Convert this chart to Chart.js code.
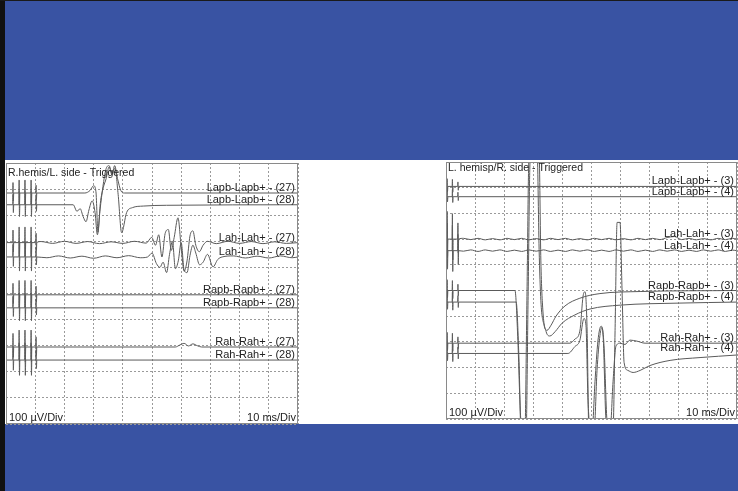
<!DOCTYPE html>
<html>
<head>
<meta charset="utf-8">
<script src="https://cdn.jsdelivr.net/npm/chart.js@4.4.1/dist/chart.umd.min.js"></script>
<style>
  body { margin: 0; width: 738px; height: 491px; background: #3953a3; position: relative; overflow: hidden; }
  #edge { position: absolute; left: 0; top: 0; width: 5px; height: 491px; background: #111; }
  #topline { position: absolute; left: 0; top: 0; width: 738px; height: 1px; background: #1a1a1a; }
  #band { position: absolute; left: 5px; top: 160px; width: 733px; height: 264px; background: #fff; }
  .screen { position: absolute; }
  #leftBox { left: 5px; top: 162px; width: 294px; height: 263px; }
  #rightBox { left: 445px; top: 161px; width: 293px; height: 259px; }
</style>
</head>
<body>
<div id="edge"></div>
<div id="topline"></div>
<div id="band"></div>
<div class="screen" id="leftBox"><canvas id="leftScreen"></canvas></div>
<div class="screen" id="rightBox"><canvas id="rightScreen"></canvas></div>

<script>
// sweep time in ms (10 ms/Div), amplitude in µV (100 µV/Div)

// ---------- R.hemis / L. side, sweeps 27 and 28 ----------
const leftChannels = ['Lapb-Lapb+ - (27)', 'Lapb-Lapb+ - (28)', 'Lah-Lah+ - (27)', 'Lah-Lah+ - (28)',
  'Rapb-Rapb+ - (27)', 'Rapb-Rapb+ - (28)', 'Rah-Rah+ - (27)', 'Rah-Rah+ - (28)'];
const leftBaselines = [385, 340, 195, 140, -5, -55, -205, -255];
const leftStimTimes = [2.4, 4.5, 6.5, 8.6, 10.3];
const leftStimUp = [40, 50, 50, 50, 30];
const leftStimDown = [30, 45, 45, 45, 25];
const leftStimGain = [1, 1, 1.2, 1.2, 1.1, 1.1, 1.3, 1.3];

const lapb27T = [0, 27.0, 28.8, 30.0, 30.8, 31.5, 32.3, 33.3, 34.3, 35.3, 36.3, 37.2, 38.2, 39.3, 40.5, 100];
const lapb27V = [0, 0, 10, 28, 5, -150, -40, 20, 55, 100, 70, 105, 55, 10, 0, 0];
const lapb28T = [0, 23, 24.3, 25.4, 26.4, 27.4, 28.4, 29.5, 30.5, 31.3, 32.2, 33.2, 34.2, 35.3, 36.3, 37.3, 38.4, 39.6, 41.3, 43.3, 47, 55, 100];
const lapb28V = [0, 0, -25, -15, -45, -65, -20, 15, -30, -115, -20, 70, 135, 150, 120, 140, 40, -107, -30, -11, -5, -2, 0];
const lah27T = [0, 12, 16, 20, 24, 28, 32, 36, 40, 44, 48, 49.9, 51.2, 52.3, 53.4, 54.5, 55.6, 56.6, 57.6, 58.9, 60.0, 61.0, 62.0, 63.0, 64.0, 65.0, 66.2, 67.5, 69, 72, 76, 80, 84, 88, 92, 96, 100];
const lah27V = [0, 4, -3, 5, -3, 4, -4, 3, -3, 5, -2, 20, -10, 30, -55, 35, 50, -30, 20, 95, -20, -110, -70, 25, 45, -10, -35, -10, 5, -4, 5, -3, 4, -4, 3, -3, 0];
const lah28T = [0, 14, 18, 22, 26, 30, 34, 38, 42, 46, 48.5, 50, 51.5, 52.7, 53.8, 55, 56, 57, 58, 59, 60, 61, 62, 63, 64, 65, 66.3, 67.5, 69, 70.9, 72.5, 74, 78, 82, 86, 90, 94, 98, 100];
const lah28V = [0, -3, 4, -4, 3, -5, 4, -3, 5, -3, 0, 15, -25, -40, -20, -60, 10, 60, -45, -15, 55, -50, -60, 5, 45, 15, -30, -20, 10, -38, -10, 0, 4, -4, 3, -4, 4, -3, 0];
const rapb27T = [0, 100];
const rapb27V = [0, 0];
const rapb28T = [0, 100];
const rapb28V = [0, 0];
const rah27T = [0, 58, 59.6, 61, 62.5, 64, 65.5, 67, 100];
const rah27V = [0, 0, 8, 14, 4, 12, 5, 0, 0];
const rah28T = [0, 100];
const rah28V = [0, 0];

// ---------- L. hemisp / R. side, sweeps 3 and 4 ----------
const rightChannels = ['Lapb-Lapb+ - (3)', 'Lapb-Lapb+ - (4)', 'Lah-Lah+ - (3)', 'Lah-Lah+ - (4)',
  'Rapb-Rapb+ - (3)', 'Rapb-Rapb+ - (4)', 'Rah-Rah+ - (3)', 'Rah-Rah+ - (4)'];
const rightBaselines = [405, 365, 200, 155, 0, -45, -205, -245];
const rightStimTimes = [0.4, 2.2, 4.1];
const rightStimUp = [60, 55, 35];
const rightStimDown = [40, 45, 30];
const rightStimGain = [0.5, 0.5, 1.8, 1.8, 0.7, 0.7, 0.7, 0.7];

const lapb3T = [0, 100];
const lapb3V = [0, 0];
const lapb4T = [0, 100];
const lapb4V = [0, 0];
const lahRT = [0, 6, 8.5, 11, 13.5, 16, 18.5, 21, 23.5, 26, 28.5, 31, 33.5, 36, 38.5, 41, 43.5, 46, 48.5, 51, 53.5, 56, 58.5, 61, 63.5, 66, 68.5, 71, 73.5, 76, 78.5, 81, 83.5, 86, 88.5, 91, 93.5, 96, 98.5, 100];
const lah3V = [0, 3, -2, 3, -3, 2, -3, 3, -2, 3, -3, 2, -3, 3, -2, 3, -3, 2, -3, 3, -2, 3, -3, 2, -3, 3, -2, 3, -2, 6, 10, -2, 3, -3, 2, -3, 3, -2, 3, 0];
const lah4V = [0, -2, 3, -3, 3, -2, 3, -3, 2, -3, 3, -2, 3, -3, 2, -3, 3, -2, 3, -3, 2, -3, 3, -2, 3, -3, 2, -3, 3, -2, 3, -3, 2, -3, 3, -2, 3, -3, 2, 0];
const rapb3T = [0, 23.7, 24.7, 25.4, 26.1, 27.1, 27.8, 28.5, 29.9, 31.3, 32.0, 32.6, 33.7, 34.7, 36.1, 37.8, 40.9, 46.0, 52.9, 66.7, 100];
const rapb3V = [0, 0, -195, -430, -560, -560, -40, 520, 600, 560, 160, -40, -135, -155, -135, -100, -60, -30, -12, -4, 0];
const rapb4T = [0, 24.1, 25.1, 25.8, 27.5, 28.2, 28.9, 30.6, 32.0, 32.6, 33.3, 34.4, 35.7, 37.5, 39.9, 44.3, 49.5, 59.8, 80.4, 100];
const rapb4V = [0, 0, -230, -520, -520, 5, 550, 620, 580, 160, -35, -115, -132, -115, -82, -50, -27, -12, -4, 0];
const rah3T = [0, 42.6, 44.3, 46.0, 47.1, 47.8, 48.5, 49.1, 50.2, 51.2, 52.2, 53.3, 54.0, 55.0, 56.4, 57.4, 58.4, 59.8, 61.5, 63.2, 65.6, 68.4, 100];
const rah3V = [0, 0, 16, 47, 183, 200, 47, -340, -340, -150, 8, 66, 27, -300, -340, -150, -12, 0, -5, 12, 8, 0, 0];
const rah4T = [0, 41.9, 44.3, 46.0, 47.4, 48.1, 48.8, 49.8, 50.9, 51.9, 52.9, 53.6, 54.3, 55.3, 56.4, 57.4, 58.1, 58.8, 59.8, 60.5, 61.2, 62.5, 64.3, 66.7, 70.1, 77.0, 87.3, 100];
const rah4V = [0, 0, 27, 51, 136, 109, -183, -300, -300, -66, 70, 101, 31, -260, -320, -300, 89, 510, 510, 245, -35, -66, -74, -66, -47, -27, -16, -6];

// one sweep = its own samples + the stimulus artefacts, shifted to the channel baseline
function sweep(t, v, base, stimTimes, stimUp, stimDown, gain) {
  var pts = t.map((x, i) => ({ x: x, y: base + v[i] }));
  stimTimes.forEach((s, i) => {
    pts.push({ x: s - 0.1, y: base });
    pts.push({ x: s, y: base + stimUp[i] * gain });
    pts.push({ x: s + 0.12, y: base - stimDown[i] * gain });
    pts.push({ x: s + 0.25, y: base });
  });
  pts.sort((a, b) => a.x - b.x);
  return pts;
}

// frame, channel names and scale notes drawn on top of the traces
const screenText = {
  id: 'screenText',
  afterDatasetsDraw(chart, args, opts) {
    const ctx = chart.ctx;
    const a = chart.chartArea;
    const y = chart.scales.y;
    ctx.save();
    ctx.strokeStyle = '#8a8a8a';
    ctx.lineWidth = 1;
    ctx.strokeRect(a.left + 0.5, a.top + 0.5, a.right - a.left - 1, a.bottom - a.top - 1);
    ctx.fillStyle = '#222';
    ctx.font = '11px "Liberation Sans", Arial, sans-serif';
    ctx.textAlign = 'right';
    ctx.textBaseline = 'alphabetic';
    opts.labels.forEach((name, i) => {
      ctx.fillText(name, a.right - 3, y.getPixelForValue(opts.baselines[i]) - 2);
    });
    ctx.fillText('10 ms/Div', a.right - 2, a.bottom - 3);
    ctx.textAlign = 'left';
    ctx.fillText('100 µV/Div', a.left + 3, a.bottom - 3);
    ctx.font = '10.5px "Liberation Sans", Arial, sans-serif';
    ctx.fillText(opts.title, a.left + 2, a.top + opts.titleDrop);
    ctx.restore();
  }
};

function makeScreen(canvasId, sweeps, title, titleDrop, labels, baselines) {
  var ctx = document.getElementById(canvasId).getContext('2d');
  return new Chart(ctx, {
    type: 'line',
    data: {
      datasets: sweeps.map((pts, i) => ({
        label: labels[i],
        data: pts,
        borderColor: '#5a5a5a',
        borderWidth: 1,
        pointRadius: 0,
        cubicInterpolationMode: 'monotone',
        fill: false
      }))
    },
    options: {
      responsive: true,
      maintainAspectRatio: false,
      animation: false,
      events: [],
      layout: { padding: 1 },
      scales: {
        x: {
          type: 'linear', min: 0, max: 100,
          ticks: { display: false, stepSize: 10 },
          grid: { color: '#9a9a9a', drawTicks: false },
          border: { display: false, dash: [2, 2] }
        },
        y: {
          type: 'linear', min: -500, max: 500,
          ticks: { display: false, stepSize: 100 },
          grid: { color: '#9a9a9a', drawTicks: false },
          border: { display: false, dash: [2, 2] }
        }
      },
      plugins: {
        legend: { display: false },
        tooltip: { enabled: false },
        screenText: { title: title, titleDrop: titleDrop, labels: labels, baselines: baselines }
      }
    },
    plugins: [screenText]
  });
}

const leftData = [
  [lapb27T, lapb27V], [lapb28T, lapb28V], [lah27T, lah27V], [lah28T, lah28V],
  [rapb27T, rapb27V], [rapb28T, rapb28V], [rah27T, rah27V], [rah28T, rah28V]
].map((d, i) => sweep(d[0], d[1], leftBaselines[i], leftStimTimes, leftStimUp, leftStimDown, leftStimGain[i]));

const rightData = [
  [lapb3T, lapb3V], [lapb4T, lapb4V], [lahRT, lah3V], [lahRT, lah4V],
  [rapb3T, rapb3V], [rapb4T, rapb4V], [rah3T, rah3V], [rah4T, rah4V]
].map((d, i) => sweep(d[0], d[1], rightBaselines[i], rightStimTimes, rightStimUp, rightStimDown, rightStimGain[i]));

makeScreen('leftScreen', leftData, 'R.hemis/L. side - Triggered', 13, leftChannels, leftBaselines);
makeScreen('rightScreen', rightData, 'L. hemisp/R. side - Triggered', 9, rightChannels, rightBaselines);
</script>
</body>
</html>
